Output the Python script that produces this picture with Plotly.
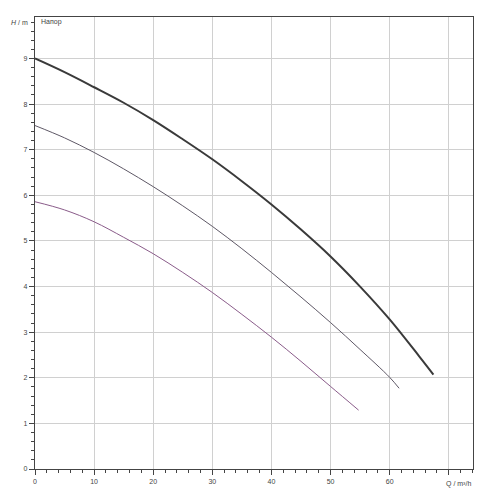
import plotly.graph_objects as go

# Curve data (Q in m³/h, H in m)
q1 = [0, 5, 10, 15, 20, 25, 30, 35, 40, 45, 50, 55, 60, 65, 67.4]
h1 = [9.00, 8.70, 8.37, 8.03, 7.65, 7.23, 6.79, 6.31, 5.80, 5.25, 4.66, 4.00, 3.28, 2.47, 2.07]

q2 = [0, 5, 10, 15, 20, 25, 30, 35, 40, 45, 50, 55, 60, 61.6]
h2 = [7.53, 7.26, 6.94, 6.58, 6.19, 5.77, 5.32, 4.83, 4.31, 3.77, 3.21, 2.62, 2.01, 1.77]

q3 = [0, 5, 10, 15, 20, 25, 30, 35, 40, 45, 50, 54.75]
h3 = [5.86, 5.68, 5.42, 5.08, 4.72, 4.31, 3.87, 3.39, 2.89, 2.36, 1.81, 1.29]

x_ticks = [0, 10, 20, 30, 40, 50, 60]
y_ticks = [0, 1, 2, 3, 4, 5, 6, 7, 8, 9]

fig = go.Figure()
fig.add_trace(go.Scatter(x=q1, y=h1, mode="lines", line=dict(color="#3a3a3a", width=2, shape="spline", smoothing=1), showlegend=False))
fig.add_trace(go.Scatter(x=q2, y=h2, mode="lines", line=dict(color="#5e5866", width=1, shape="spline", smoothing=1), showlegend=False))
fig.add_trace(go.Scatter(x=q3, y=h3, mode="lines", line=dict(color="#8a5c8a", width=1, shape="spline", smoothing=1), showlegend=False))

axis_font = dict(family="Liberation Sans, Arial, sans-serif", size=7, color="#444")

fig.update_layout(
    width=492, height=492,
    margin=dict(l=27, r=27, t=9, b=31, autoexpand=False),
    paper_bgcolor="white", plot_bgcolor="white",
    font=axis_font,
    xaxis=dict(
        range=[0, 74.1], tickvals=x_ticks + [70], ticktext=[str(v) for v in x_ticks] + [""],
        showgrid=True, gridcolor="#d0d0d0", gridwidth=1,
        showline=True, linecolor="#444", linewidth=1.3, mirror=True,
        ticks="outside", ticklen=5, tickcolor="#444", tickwidth=1,
        minor=dict(dtick=2, tick0=0, ticks="outside", ticklen=3, tickcolor="#444", showgrid=False),
        zeroline=False, tickfont=axis_font, fixedrange=True, automargin=False,
    ),
    yaxis=dict(
        range=[0, 9.91], tickvals=y_ticks, ticktext=[str(v) for v in y_ticks],
        showgrid=True, gridcolor="#d0d0d0", gridwidth=1,
        showline=True, linecolor="#444", linewidth=1.3, mirror=True,
        ticks="outside", ticklen=5, tickcolor="#444", tickwidth=1,
        minor=dict(dtick=0.2, tick0=0, ticks="outside", ticklen=3, tickcolor="#444", showgrid=False),
        zeroline=False, tickfont=axis_font, fixedrange=True, automargin=False,
    ),
    annotations=[
        dict(text="<i>H</i> / m", xref="paper", yref="paper", x=-0.012, y=0.988,
             xanchor="right", yanchor="middle", showarrow=False, font=axis_font),
        dict(text="Напор", xref="paper", yref="paper", x=0.008, y=0.988,
             xanchor="left", yanchor="middle", showarrow=False, font=axis_font),
        dict(text="Q / m³/h", xref="paper", yref="paper", x=1.0, y=-0.02,
             xanchor="right", yanchor="top", showarrow=False, font=axis_font),
    ],
)

fig.write_html("out.html")
